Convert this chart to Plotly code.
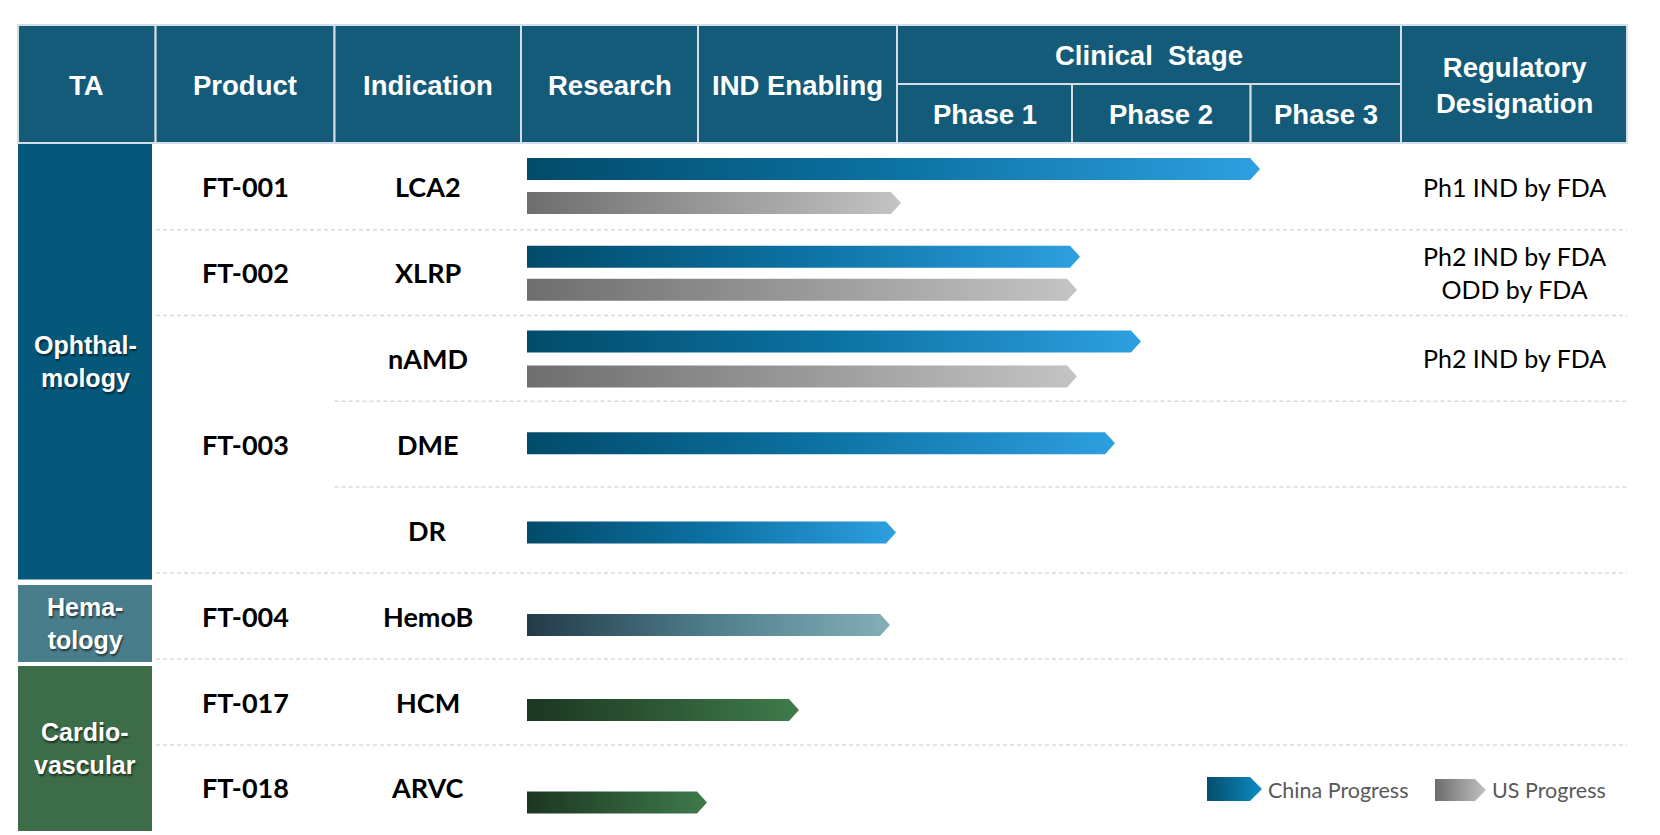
import plotly.graph_objects as go

# ---------------- data ----------------
header_cols = ["TA", "Product", "Indication", "Research", "IND Enabling"]
phase_cols = ["Phase 1", "Phase 2", "Phase 3"]
clinical_title = "Clinical\u00a0\u00a0Stage"
reg_title = "Regulatory<br>Designation"

indications = ["LCA2", "XLRP", "nAMD", "DME", "DR", "HemoB", "HCM", "ARVC"]
products = ["FT-001", "FT-002", "FT-003", "FT-003", "FT-003", "FT-004", "FT-017", "FT-018"]
areas = ["Ophthal-<br>mology", "Hema-<br>tology", "Cardio-<br>vascular"]
area_kind = ["ophtha", "hema", "cardio"]
row_area = ["ophtha"] * 5 + ["hema"] + ["cardio"] * 2

# progress (end position on the pipeline axis)
china_progress = [1260, 1080, 1141, 1115, 896, 890, 799, 707]
us_progress = [901, 1077, 1077, None, None, None, None, None]

regulatory = ["Ph1 IND by FDA", "Ph2 IND by FDA<br>ODD by FDA", "Ph2 IND by FDA", "", "", "", "", ""]
legend_labels = ["China Progress", "US Progress"]

# ---------------- layout / style ----------------
W, H = 1660, 835
col_edges = [18, 155.6, 334.5, 521, 698, 897, 1072, 1250.6, 1401, 1627]
hdr_top, hdr_mid, hdr_bot = 25, 84, 143
row_edges = [144, 229.7, 315.5, 401.2, 487, 573, 659, 745, 830]
area_bounds = [(144, 579.5), (585, 662), (666, 831)]
bar_start = 527
bar_h = 22
tip = 10
# vertical placement of bars inside each row (offset of bar centre from row top)
china_off = [25, 27, 26, 42, 45.5, 52, 51, 57.5]
us_off = [59, 60, 61, None, None, None, None, None]

HDR_FILL = "#145A79"
HDR_LINE = "#D5DEE4"
AREA_FILL = {"ophtha": "#05587A", "hema": "#4A7D8B", "cardio": "#3D6C49"}
GRAD = {
    "ophtha": [[0, "#024B6A"], [0.5, "#0C72A3"], [1, "#2E9FE0"]],
    "hema": [[0, "#223B47"], [0.5, "#4F7D8B"], [1, "#84AFB8"]],
    "cardio": [[0, "#1C3621"], [1, "#3F7B4B"]],
    "us": [[0, "#6E6E6E"], [1, "#C4C4C4"]],
}
HFONT = "Liberation Sans, Arial, sans-serif"
NFONT = "Liberation Sans Narrow, Arial Narrow, Liberation Sans, sans-serif"
BFONT = "Lato, Noto Sans, sans-serif"

fig = go.Figure()
shapes = []
annotations = []


def rect(x0, y0, x1, y1, fill, line=None, lw=0):
    shapes.append(dict(type="rect", xref="x", yref="y", x0=x0, y0=y0, x1=x1, y1=y1,
                       fillcolor=fill, line=dict(color=line or fill, width=lw), layer="below"))


def text(x, y, s, size, color, family, weight=400, shadow=None, xanchor="center"):
    f = dict(size=size, color=color, family=family, weight=weight)
    if shadow:
        f["shadow"] = shadow
    annotations.append(dict(x=x, y=y, xref="x", yref="y", text=s, showarrow=False,
                            xanchor=xanchor, yanchor="middle", font=f, align="center"))


def arrow(x0, x1, yc, h, tipw, scale):
    xs = [x0, x1 - tipw, x1, x1 - tipw, x0, x0]
    ys = [yc - h / 2, yc - h / 2, yc, yc + h / 2, yc + h / 2, yc - h / 2]
    fig.add_trace(go.Scatter(
        x=xs, y=ys, mode="none", fill="toself",
        fillgradient=dict(type="horizontal", colorscale=scale, start=x0, stop=x1),
        hoverinfo="skip", showlegend=False))


# header cells
for i, name in enumerate(header_cols):
    rect(col_edges[i], hdr_top, col_edges[i + 1], hdr_bot, HDR_FILL, HDR_LINE, 2)
    text((col_edges[i] + col_edges[i + 1]) / 2, (hdr_top + hdr_bot) / 2 + 1, name, 27.5, "white", HFONT, 700)
rect(col_edges[5], hdr_top, col_edges[8], hdr_mid, HDR_FILL, HDR_LINE, 2)
text((col_edges[5] + col_edges[8]) / 2, (hdr_top + hdr_mid) / 2 + 1, clinical_title, 27.5, "white", HFONT, 700)
for j, name in enumerate(phase_cols):
    a, b = col_edges[5 + j], col_edges[6 + j]
    rect(a, hdr_mid, b, hdr_bot, HDR_FILL, HDR_LINE, 2)
    text((a + b) / 2, (hdr_mid + hdr_bot) / 2 + 1, name, 27.5, "white", HFONT, 700)
rect(col_edges[8], hdr_top, col_edges[9], hdr_bot, HDR_FILL, HDR_LINE, 2)
text((col_edges[8] + col_edges[9]) / 2, (hdr_top + hdr_bot) / 2 + 1, reg_title, 27.5, "white", HFONT, 700)

# therapeutic area blocks
for k, name in enumerate(areas):
    y0, y1 = area_bounds[k]
    rect(18, y0, 152, y1, AREA_FILL[area_kind[k]])
    text(85, (y0 + y1) / 2, name, 25, "white", NFONT, 700,
         shadow="1px 2px 2px rgba(0,0,0,0.55)")

# dashed separators
for r in range(1, len(indications)):
    same_product = products[r] == products[r - 1]
    xs = col_edges[2] if same_product else 156
    shapes.append(dict(type="line", xref="x", yref="y", x0=xs, x1=col_edges[9],
                       y0=row_edges[r], y1=row_edges[r],
                       line=dict(color="#DADADA", width=1.5, dash="4px,3px"), layer="below"))

# product labels (merged over consecutive rows)
r = 0
while r < len(products):
    e = r
    while e + 1 < len(products) and products[e + 1] == products[r]:
        e += 1
    yc = (row_edges[r] + row_edges[e + 1]) / 2
    text((col_edges[1] + col_edges[2]) / 2, yc, products[r], 27, "black", BFONT, 700)
    r = e + 1

# indications, regulatory notes, bars
for i, ind in enumerate(indications):
    yc = (row_edges[i] + row_edges[i + 1]) / 2
    text((col_edges[2] + col_edges[3]) / 2, yc, ind, 27, "black", BFONT, 700)
    if regulatory[i]:
        text((col_edges[8] + col_edges[9]) / 2, yc, regulatory[i], 25, "black", BFONT, 400)
    arrow(bar_start, china_progress[i], row_edges[i] + china_off[i], bar_h, tip, GRAD[row_area[i]])
    if us_progress[i] is not None:
        arrow(bar_start, us_progress[i], row_edges[i] + us_off[i], bar_h, tip, GRAD["us"])

# legend
arrow(1207, 1262, 789, 24, 12, [[0, "#034E6D"], [1, "#0C8CC4"]])
text(1266, 790, legend_labels[0], 21.5, "#595959", BFONT, 400, xanchor="left")
arrow(1435, 1486, 790, 22, 11, [[0, "#6C6C6C"], [1, "#C2C2C2"]])
text(1490, 790, legend_labels[1], 21.5, "#595959", BFONT, 400, xanchor="left")

fig.update_layout(
    width=W, height=H, margin=dict(l=0, r=0, t=0, b=0),
    paper_bgcolor="white", plot_bgcolor="white",
    xaxis=dict(range=[0, W], visible=False, fixedrange=True),
    yaxis=dict(range=[H, 0], visible=False, fixedrange=True),
    shapes=shapes, annotations=annotations, showlegend=False,
)

fig.write_html("out.html", config={"displayModeBar": False},
               post_script="document.body.style.margin='0px';")
